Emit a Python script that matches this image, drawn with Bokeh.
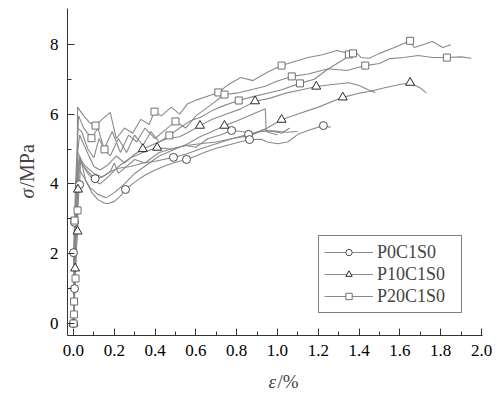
import math
from bokeh.plotting import figure
from bokeh.models import Range1d, FixedTicker, PrintfTickFormatter, Legend, LegendItem, Label
from bokeh.embed import file_html
from bokeh.resources import INLINE

# ---------------- data (strain in %, stress in MPa) ----------------
x_ticks = [0.0, 0.2, 0.4, 0.6, 0.8, 1.0, 1.2, 1.4, 1.6, 1.8, 2.0]
x_minor = [0.1, 0.3, 0.5, 0.7, 0.9, 1.1, 1.3, 1.5, 1.7, 1.9]
y_ticks = [0, 2, 4, 6, 8]
y_minor = [1, 3, 5, 7]
group_names = ["P0C1S0", "P10C1S0", "P20C1S0"]

# P0C1S0 specimens
p0_a_eps = [0, 0.005, 0.008, 0.012, 0.025, 0.03, 0.04, 0.06, 0.09, 0.12, 0.15, 0.17, 0.2, 0.23, 0.255, 0.3,
            0.35, 0.4, 0.45, 0.5, 0.554, 0.6, 0.65, 0.7, 0.75, 0.8, 0.863, 0.92, 0.95, 1.0, 1.05, 1.1, 1.16,
            1.225, 1.26]
p0_a_sig = [0, 1.0, 2.0, 3.0, 4.0, 4.75, 4.6, 4.1, 3.75, 3.55, 3.45, 3.44, 3.5, 3.65, 3.84, 4.05,
            4.25, 4.4, 4.52, 4.62, 4.70, 4.8, 4.92, 5.02, 5.1, 5.18, 5.27, 5.28, 5.2, 5.15, 5.2, 5.42, 5.55,
            5.67, 5.62]
p0_b_eps = [0, 0.002, 0.0, 0.005, 0.015, 0.02, 0.03, 0.05, 0.08, 0.106, 0.14, 0.18, 0.22, 0.28, 0.34, 0.4,
            0.49, 0.55, 0.62, 0.7, 0.78, 0.858, 0.92, 0.98, 1.04, 1.1]
p0_b_sig = [0, 1.0, 2.03, 2.9, 4.0, 4.9, 4.8, 4.5, 4.3, 4.15, 4.2, 4.35, 4.45, 4.5, 4.6, 4.65,
            4.76, 4.85, 5.0, 5.15, 5.3, 5.42, 5.5, 5.52, 5.48, 5.5]
p0_c_eps = [0, 0.01, 0.015, 0.03, 0.035, 0.06, 0.1, 0.14, 0.18, 0.2, 0.22, 0.26, 0.3, 0.35, 0.42, 0.48,
            0.55, 0.6, 0.66, 0.72, 0.775, 0.82, 0.88, 0.93, 0.98, 1.02, 1.06]
p0_c_sig = [0, 1.5, 3.0, 3.98, 4.7, 4.5, 4.3, 4.2, 4.35, 4.6, 4.3, 4.5, 4.7, 4.6, 4.9, 5.0,
            5.1, 5.05, 5.3, 5.4, 5.53, 5.5, 5.45, 5.55, 5.5, 5.45, 5.6]
p0_mark_eps = [0.0, 0.005, 0.0, 0.005, 0.03, 0.106, 0.255, 0.49, 0.554, 0.775, 0.858, 0.863, 1.225]
p0_mark_sig = [0.0, 1.0, 2.03, 2.9, 3.98, 4.15, 3.84, 4.76, 4.70, 5.53, 5.42, 5.27, 5.67]

# P10C1S0 specimens
p10_a_eps = [0, 0.008, 0.02, 0.022, 0.025, 0.028, 0.04, 0.07, 0.1, 0.13, 0.17, 0.22, 0.28, 0.34, 0.41,
             0.48, 0.55, 0.62, 0.7, 0.78, 0.87, 0.95, 1.02, 1.1, 1.2, 1.32, 1.4, 1.45, 1.52, 1.6, 1.65,
             1.7, 1.73]
p10_a_sig = [0, 1.58, 2.64, 3.84, 4.6, 4.8, 4.6, 4.3, 4.1, 4.0, 4.2, 4.5, 4.75, 4.9, 5.04,
             5.0, 5.1, 5.15, 5.2, 5.3, 5.39, 5.6, 5.84, 6.0, 6.2, 6.48, 6.6, 6.65, 6.75, 6.85, 6.9,
             6.75, 6.6]
p10_b_eps = [0, 0.005, 0.01, 0.015, 0.02, 0.03, 0.06, 0.1, 0.13, 0.17, 0.21, 0.25, 0.3, 0.34, 0.4, 0.46,
             0.52, 0.57, 0.62, 0.68, 0.75, 0.82, 0.89, 0.96, 1.04, 1.12, 1.19, 1.27, 1.35, 1.4, 1.45, 1.48]
p10_b_sig = [0, 1.5, 2.7, 3.9, 4.9, 5.4, 5.0, 4.5, 4.4, 4.55, 4.8, 4.6, 4.85, 5.0, 5.15, 5.3,
             5.35, 5.5, 5.67, 5.85, 6.0, 6.15, 6.37, 6.45, 6.6, 6.7, 6.79, 6.85, 6.9, 6.82, 6.68, 6.62]
p10_c_eps = [0, 0.005, 0.01, 0.015, 0.02, 0.04, 0.08, 0.12, 0.16, 0.2, 0.25, 0.3, 0.36, 0.42, 0.5, 0.56,
             0.62, 0.68, 0.74, 0.8, 0.86, 0.92, 0.94, 0.945, 0.97, 1.0]
p10_c_sig = [0, 1.6, 2.6, 3.8, 4.5, 4.3, 3.9, 3.7, 3.6, 3.75, 4.0, 4.3, 4.55, 4.8, 5.0, 5.15,
             5.35, 5.5, 5.67, 5.8, 5.95, 6.1, 6.15, 5.5, 5.45, 5.4]
p10_mark_eps = [0.0, 0.008, 0.02, 0.022, 0.34, 0.41, 0.62, 0.74, 0.89, 1.02, 1.19, 1.32, 1.65]
p10_mark_sig = [0.0, 1.58, 2.64, 3.84, 5.0, 5.04, 5.67, 5.67, 6.37, 5.84, 6.79, 6.48, 6.90]

# P20C1S0 specimens
p20_a_eps = [0, 0.002, 0.003, 0.01, 0.012, 0.018, 0.02, 0.05, 0.08, 0.108, 0.14, 0.18, 0.21, 0.25, 0.29,
             0.33, 0.37, 0.397, 0.43, 0.48, 0.52, 0.56, 0.6, 0.65, 0.71, 0.76, 0.82, 0.88, 0.95, 1.02,
             1.08, 1.15, 1.22, 1.29, 1.35, 1.38, 1.41, 1.45, 1.5, 1.57, 1.65, 1.67, 1.72, 1.76, 1.81, 1.85]
p20_a_sig = [0, 0.26, 0.63, 1.29, 2.2, 4.5, 6.2, 5.95, 5.75, 5.67, 5.85, 6.05, 5.3, 5.6, 5.45,
             5.85, 5.7, 6.07, 5.95, 6.2, 6.0, 6.3, 6.4, 6.5, 6.62, 6.85, 7.05, 6.96, 7.2, 7.39,
             7.5, 7.62, 7.7, 7.82, 7.74, 7.8, 7.62, 7.6, 7.74, 7.9, 8.1, 7.91, 8.0, 8.08, 7.91, 7.99]
p20_b_eps = [0, 0.004, 0.005, 0.01, 0.025, 0.05, 0.088, 0.12, 0.15, 0.19, 0.23, 0.27, 0.31, 0.35, 0.4,
             0.45, 0.5, 0.55, 0.6, 0.67, 0.74, 0.8, 0.87, 0.94, 1.0, 1.07, 1.15, 1.25, 1.34, 1.43, 1.5,
             1.55, 1.62, 1.69, 1.76, 1.83, 1.9, 1.95]
p20_b_sig = [0, 1.5, 2.95, 4.0, 5.95, 5.6, 5.31, 5.6, 5.0, 5.5, 4.9, 5.4, 5.2, 5.6, 5.3,
             5.55, 5.79, 5.6, 5.95, 6.25, 6.56, 6.6, 6.7, 6.8, 6.95, 7.08, 7.15, 7.3, 7.25, 7.39, 7.45,
             7.59, 7.62, 7.68, 7.62, 7.62, 7.64, 7.6]
p20_c_eps = [0, 0.01, 0.02, 0.02, 0.04, 0.07, 0.1, 0.125, 0.152, 0.18, 0.22, 0.26, 0.3, 0.34, 0.38, 0.42,
             0.47, 0.52, 0.57, 0.62, 0.68, 0.74, 0.81, 0.88, 0.95, 1.02, 1.11, 1.18, 1.25, 1.32, 1.37, 1.39]
p20_c_sig = [0, 1.6, 3.24, 5.6, 5.5, 5.0, 4.75, 5.3, 4.99, 4.8, 5.3, 4.9, 5.4, 5.1, 5.5, 5.2,
             5.39, 5.6, 5.8, 5.9, 6.1, 6.25, 6.39, 6.5, 6.6, 6.7, 6.88, 7.0, 7.3, 7.55, 7.74, 7.72]
p20_mark_eps = [0.0, 0.002, 0.003, 0.01, 0.005, 0.02, 0.088, 0.108, 0.152, 0.397, 0.47, 0.5, 0.71, 0.74,
                0.81, 1.02, 1.07, 1.11, 1.35, 1.37, 1.43, 1.65, 1.83]
p20_mark_sig = [0.0, 0.26, 0.63, 1.29, 2.95, 3.24, 5.31, 5.67, 4.99, 6.07, 5.39, 5.79, 6.62, 6.56,
                6.39, 7.39, 7.08, 6.88, 7.71, 7.74, 7.39, 8.1, 7.62]

# axis extents (data units)
x_lo, x_hi = -0.0294, 2.005
y_lo, y_hi = -0.344, 9.03

# ---------------- figure ----------------
# The frame covers the whole canvas; the axes are pinned at fixed data locations
SERIF = "Liberation Serif"
p = figure(width=497, height=394, output_backend="svg", toolbar_location=None,
           x_range=Range1d(-0.3578, 2.0784), y_range=Range1d(-2.034, 9.255),
           min_border=0)
p.outline_line_color = None
p.grid.visible = False
p.background_fill_color = "white"
p.border_fill_color = "white"

p.xaxis.fixed_location = y_lo
p.xaxis.bounds = (x_lo, x_hi)
p.yaxis.fixed_location = x_lo
p.yaxis.bounds = (y_lo, y_hi)

for ax in (p.xaxis[0], p.yaxis[0]):
    ax.axis_line_color = "#333333"
    ax.major_tick_line_color = "#333333"
    ax.minor_tick_line_color = "#333333"
    ax.major_tick_in = 7
    ax.major_tick_out = 0
    ax.minor_tick_in = 4
    ax.minor_tick_out = 0
    ax.major_label_text_font = SERIF
    ax.major_label_text_font_size = "17px"
    ax.major_label_text_color = "black"
    ax.major_label_standoff = 9

p.xaxis.ticker = FixedTicker(ticks=x_ticks, minor_ticks=x_minor)
p.xaxis.formatter = PrintfTickFormatter(format="%.1f")
p.yaxis.ticker = FixedTicker(ticks=y_ticks, minor_ticks=y_minor)

LINE_COLOR = "#8a8a8a"
curves = [
    [(p0_a_eps, p0_a_sig), (p0_b_eps, p0_b_sig), (p0_c_eps, p0_c_sig)],
    [(p10_a_eps, p10_a_sig), (p10_b_eps, p10_b_sig), (p10_c_eps, p10_c_sig)],
    [(p20_a_eps, p20_a_sig), (p20_b_eps, p20_b_sig), (p20_c_eps, p20_c_sig)],
]
marks = [(p0_mark_eps, p0_mark_sig), (p10_mark_eps, p10_mark_sig), (p20_mark_eps, p20_mark_sig)]
marker_styles = [("circle", 8, "#4a4a4a"), ("triangle", 9, "#2a2a2a"), ("square", 7, "#6e6e6e")]

first_lines = []
for grp in curves:
    rs = []
    for ex, sy in grp:
        rs.append(p.line(ex, sy, line_color=LINE_COLOR, line_width=1.1))
    first_lines.append(rs[0])

items = []
for i, (mx, my) in enumerate(marks):
    mk, sz, col = marker_styles[i]
    sr = p.scatter(mx, my, marker=mk, size=sz, fill_color="white", line_color=col, line_width=1)
    items.append(LegendItem(label=group_names[i], renderers=[first_lines[i], sr]))

legend = Legend(items=items, location=(318, 81), glyph_width=49, glyph_height=16, label_width=79,
                label_standoff=4, padding=5, spacing=0, label_height=22, margin=0,
                label_text_font=SERIF, label_text_font_size="18px",
                border_line_color="black", border_line_width=1, background_fill_color="white",
                background_fill_alpha=1.0)
p.add_layout(legend)

# axis labels (italic symbol + upright unit), screen units from canvas bottom-left
p.add_layout(Label(x=268, y=13, x_units="screen", y_units="screen", text="ε", text_font=SERIF,
                   text_font_style="italic", text_font_size="19px", text_baseline="alphabetic"))
p.add_layout(Label(x=277, y=13, x_units="screen", y_units="screen", text="/%", text_font=SERIF,
                   text_font_size="19px", text_baseline="alphabetic"))
p.add_layout(Label(x=26, y=196, x_units="screen", y_units="screen", text="σ", text_font=SERIF,
                   text_font_style="italic", text_font_size="20px", text_baseline="alphabetic",
                   angle=math.pi / 2))
p.add_layout(Label(x=26, y=207, x_units="screen", y_units="screen", text="/MPa", text_font=SERIF,
                   text_font_size="20px", text_baseline="alphabetic", angle=math.pi / 2))

open("out.html", "w").write(file_html(p, INLINE))
